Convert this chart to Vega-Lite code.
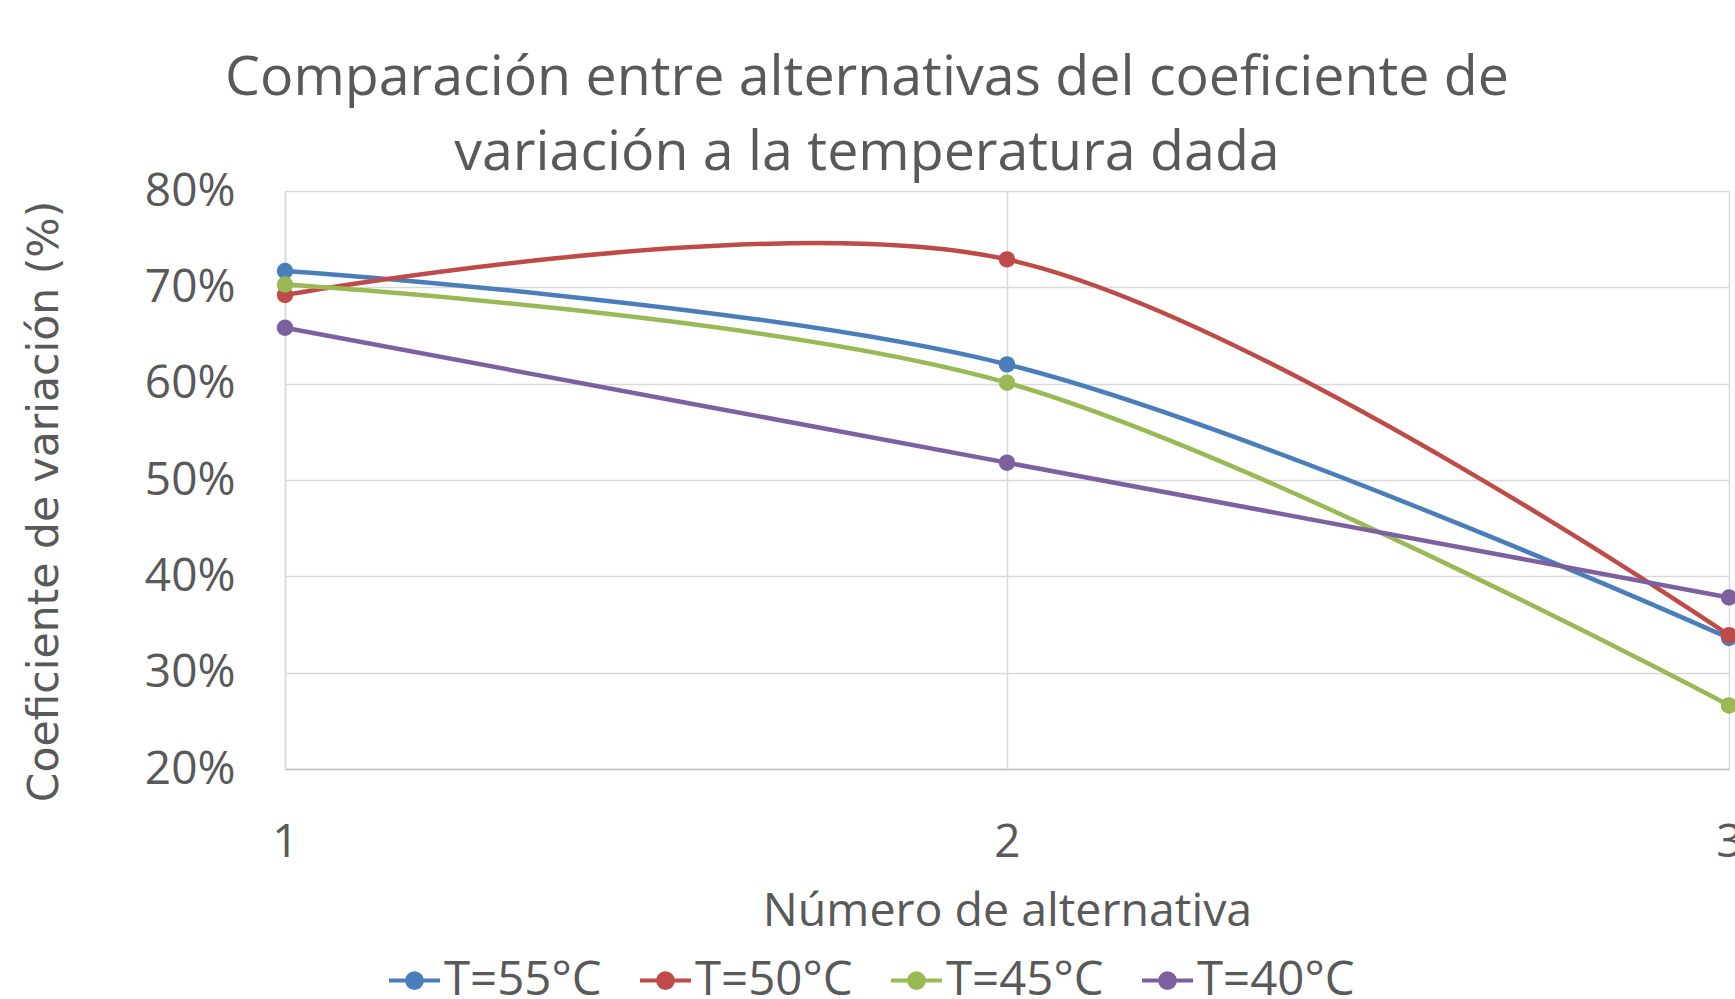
{
  "$schema": "https://vega.github.io/schema/vega-lite/v6.json",
  "width": 1444,
  "height": 578,
  "autosize": "none",
  "padding": {"left": 285, "top": 191, "right": 6, "bottom": 230},
  "background": "white",
  "title": {
    "text": ["Comparación entre alternativas del coeficiente de", "variación a la temperatura dada"],
    "anchor": "middle",
    "frame": "group",
    "dx": -140,
    "fontSize": 55.5,
    "font": "Open Sans",
    "fontWeight": "normal",
    "color": "#595959",
    "lineHeight": 75,
    "offset": -13
  },
  "config": {
    "font": "Open Sans",
    "view": {"stroke": null},
    "axis": {"labelColor": "#595959", "titleColor": "#595959", "labelFont": "Open Sans", "titleFont": "Open Sans", "titleFontWeight": "normal", "gridColor": "#d9d9d9", "gridWidth": 1.5, "domainColor": "#bfbfbf", "domainWidth": 1.5, "ticks": false}
  },
  "data": {
    "values": [
      {"alt": 1, "cv": 0.717, "serie": "T=55°C"},
      {"alt": 2, "cv": 0.620, "serie": "T=55°C"},
      {"alt": 3, "cv": 0.336, "serie": "T=55°C"},
      {"alt": 1, "cv": 0.692, "serie": "T=50°C"},
      {"alt": 2, "cv": 0.729, "serie": "T=50°C"},
      {"alt": 3, "cv": 0.339, "serie": "T=50°C"},
      {"alt": 1, "cv": 0.703, "serie": "T=45°C"},
      {"alt": 2, "cv": 0.601, "serie": "T=45°C"},
      {"alt": 3, "cv": 0.266, "serie": "T=45°C"},
      {"alt": 1, "cv": 0.658, "serie": "T=40°C"},
      {"alt": 2, "cv": 0.518, "serie": "T=40°C"},
      {"alt": 3, "cv": 0.378, "serie": "T=40°C"}
    ]
  },
  "encoding": {
    "x": {
      "field": "alt", "type": "ordinal",
      "scale": {"type": "point", "padding": 0, "domain": [1, 2, 3]},
      "axis": {"title": "Número de alternativa", "labelAngle": 0, "grid": true, "labelFontSize": 46, "labelPadding": 51, "titleFontSize": 46.5, "titleY": 142, "titleBaseline": "middle", "labelFlush": false, "labelOverlap": false, "domain": true}
    },
    "y": {
      "field": "cv", "type": "quantitative",
      "scale": {"domain": [0.2, 0.8], "nice": false, "zero": false},
      "axis": {"title": "Coeficiente de variación (%)", "values": [0.2, 0.3, 0.4, 0.5, 0.6, 0.7, 0.8], "format": ".0%", "labelFontSize": 46, "labelPadding": 50, "titleFont": "DejaVu Sans", "titleFontSize": 42.5, "titleX": -241, "titleY": 310, "titleBaseline": "middle", "titleAngle": -90, "domainColor": "#d9d9d9"}
    },
    "color": {
      "field": "serie", "type": "nominal",
      "sort": ["T=55°C", "T=50°C", "T=45°C", "T=40°C"],
      "scale": {"domain": ["T=55°C", "T=50°C", "T=45°C", "T=40°C"], "range": ["#4a7ebb", "#be4b48", "#98b954", "#7d60a0"]},
      "legend": {
        "title": null, "orient": "none", "direction": "horizontal", "legendX": 102, "legendY": 762,
        "labelFontSize": 47.4, "labelColor": "#595959", "labelFont": "Open Sans", "labelOffset": 2, "columnPadding": 30,
        "symbolType": "M-1,0H1M-0.29,0A0.29,0.29 0 1,0 0.29,0A0.29,0.29 0 1,0 -0.29,0Z",
        "symbolSize": 2601, "symbolStrokeWidth": 4,
        "encode": {"symbols": {"update": {"fill": {"scale": "color", "field": "value"}, "stroke": {"scale": "color", "field": "value"}, "strokeWidth": {"value": 4}, "opacity": {"value": 1}}}}
      }
    }
  },
  "layer": [
    {"mark": {"type": "line", "interpolate": "catmull-rom", "strokeWidth": 4.5}},
    {"mark": {"type": "point", "filled": true, "size": 270, "opacity": 1}}
  ]
}
